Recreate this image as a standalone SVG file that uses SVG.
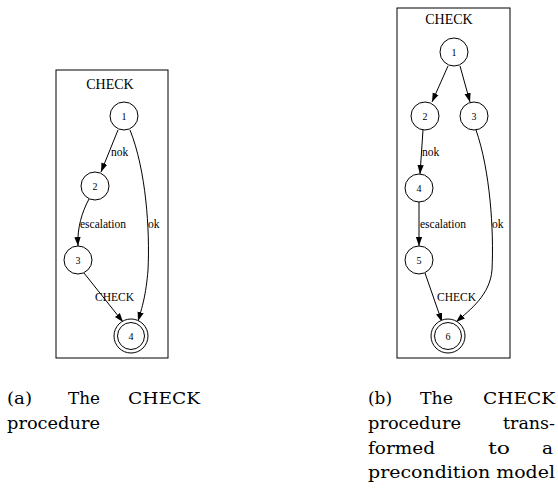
<svg xmlns="http://www.w3.org/2000/svg" width="558" height="492" viewBox="0 0 558 492">
<style>
.box{fill:none;stroke:#000;stroke-width:1}
.n{fill:#fff;stroke:#000;stroke-width:1}
.e{fill:none;stroke:#000;stroke-width:1}
.t{font-family:'Times New Roman','Liberation Serif',serif;font-size:10px;fill:#000;text-anchor:middle}
.lb{font-family:'Times New Roman','Liberation Serif',serif;font-size:11.5px;fill:#000}
.ti{font-family:'Times New Roman','Liberation Serif',serif;font-size:14px;fill:#000;text-anchor:middle}
.cap{font-family:'DejaVu Serif',serif;font-size:16px;fill:#000}
</style>
<defs>
<marker id="ah" viewBox="0 0 10 10" refX="10" refY="5" markerWidth="9" markerHeight="9" markerUnits="userSpaceOnUse" orient="auto">
<path d="M0,1.5 L10,5 L0,8.5 Z" fill="#000"/>
</marker>
</defs>
<g id="frame-a">
<rect class="box" x="56" y="70" width="112" height="288"/>
<text class="ti" x="110" y="89">CHECK</text>
</g>
<g id="frame-b">
<rect class="box" x="397" y="8" width="113" height="350"/>
<text class="ti" x="449" y="24">CHECK</text>
</g>
<g id="connectors">
<path class="e" d="M118,130 L101,172" marker-end="url(#ah)"/>
<path class="e" d="M89,199 C82,212 77,228 78,246" marker-end="url(#ah)"/>
<path class="e" d="M130,130 C146,170 150,230 148,270 C146,295 142,308 138,321" marker-end="url(#ah)"/>
<path class="e" d="M84,273 L123,322" marker-end="url(#ah)"/>
<path class="e" d="M448,66 L432,102" marker-end="url(#ah)"/>
<path class="e" d="M460,66 L470,102" marker-end="url(#ah)"/>
<path class="e" d="M423,130 L420,174" marker-end="url(#ah)"/>
<path class="e" d="M419,202 L419,246" marker-end="url(#ah)"/>
<path class="e" d="M425,273 L442,322" marker-end="url(#ah)"/>
<path class="e" d="M476,130 C490,170 494,230 492,270 C490,295 470,310 456,322" marker-end="url(#ah)"/>
<text class="lb" x="111" y="156">nok</text>
<text class="lb" x="80" y="228">escalation</text>
<text class="lb" x="148" y="228">ok</text>
<text class="lb" x="95" y="301">CHECK</text>
<text class="lb" x="422" y="156">nok</text>
<text class="lb" x="420" y="228">escalation</text>
<text class="lb" x="492" y="228">ok</text>
<text class="lb" x="437" y="301">CHECK</text>
</g>
<g id="a1"><circle class="n" cx="124" cy="116" r="14"/><text class="t" x="124" y="119.5">1</text></g>
<g id="a2"><circle class="n" cx="95" cy="186" r="14"/><text class="t" x="95" y="189.5">2</text></g>
<g id="a3"><circle class="n" cx="78" cy="260" r="14"/><text class="t" x="78" y="263.5">3</text></g>
<g id="a4"><circle class="n" cx="131" cy="336" r="17"/><circle class="n" cx="131" cy="336" r="13.5"/><text class="t" x="131" y="339.5">4</text></g>
<g id="b1"><circle class="n" cx="454" cy="52" r="14"/><text class="t" x="454" y="55.5">1</text></g>
<g id="b2"><circle class="n" cx="425" cy="116" r="14"/><text class="t" x="425" y="119.5">2</text></g>
<g id="b3"><circle class="n" cx="474" cy="116" r="14"/><text class="t" x="474" y="119.5">3</text></g>
<g id="b4"><circle class="n" cx="419" cy="188" r="14"/><text class="t" x="419" y="191.5">4</text></g>
<g id="b5"><circle class="n" cx="419" cy="260" r="14"/><text class="t" x="419" y="263.5">5</text></g>
<g id="b6"><circle class="n" cx="448" cy="336" r="17"/><circle class="n" cx="448" cy="336" r="13.5"/><text class="t" x="448" y="339.5">6</text></g>
<g id="caption-a">
<text class="cap" x="7" y="404" textLength="25" lengthAdjust="spacingAndGlyphs">(a)</text>
<text class="cap" x="68" y="404" textLength="32" lengthAdjust="spacingAndGlyphs">The</text>
<text class="cap" x="128" y="404" textLength="72" lengthAdjust="spacingAndGlyphs">CHECK</text>
<text class="cap" x="7" y="429" textLength="93" lengthAdjust="spacingAndGlyphs">procedure</text>
</g>
<g id="caption-b">
<text class="cap" x="368" y="404" textLength="24" lengthAdjust="spacingAndGlyphs">(b)</text>
<text class="cap" x="420" y="404" textLength="33" lengthAdjust="spacingAndGlyphs">The</text>
<text class="cap" x="483" y="404" textLength="72" lengthAdjust="spacingAndGlyphs">CHECK</text>
<text class="cap" x="368" y="429" textLength="93" lengthAdjust="spacingAndGlyphs">procedure</text>
<text class="cap" x="503" y="429" textLength="52" lengthAdjust="spacingAndGlyphs">trans-</text>
<text class="cap" x="368" y="454" textLength="67" lengthAdjust="spacingAndGlyphs">formed</text>
<text class="cap" x="488" y="454" textLength="22" lengthAdjust="spacingAndGlyphs">to</text>
<text class="cap" x="542" y="454" textLength="11" lengthAdjust="spacingAndGlyphs">a</text>
<text class="cap" x="368" y="478" textLength="187" lengthAdjust="spacingAndGlyphs">precondition model</text>
</g>
</svg>
